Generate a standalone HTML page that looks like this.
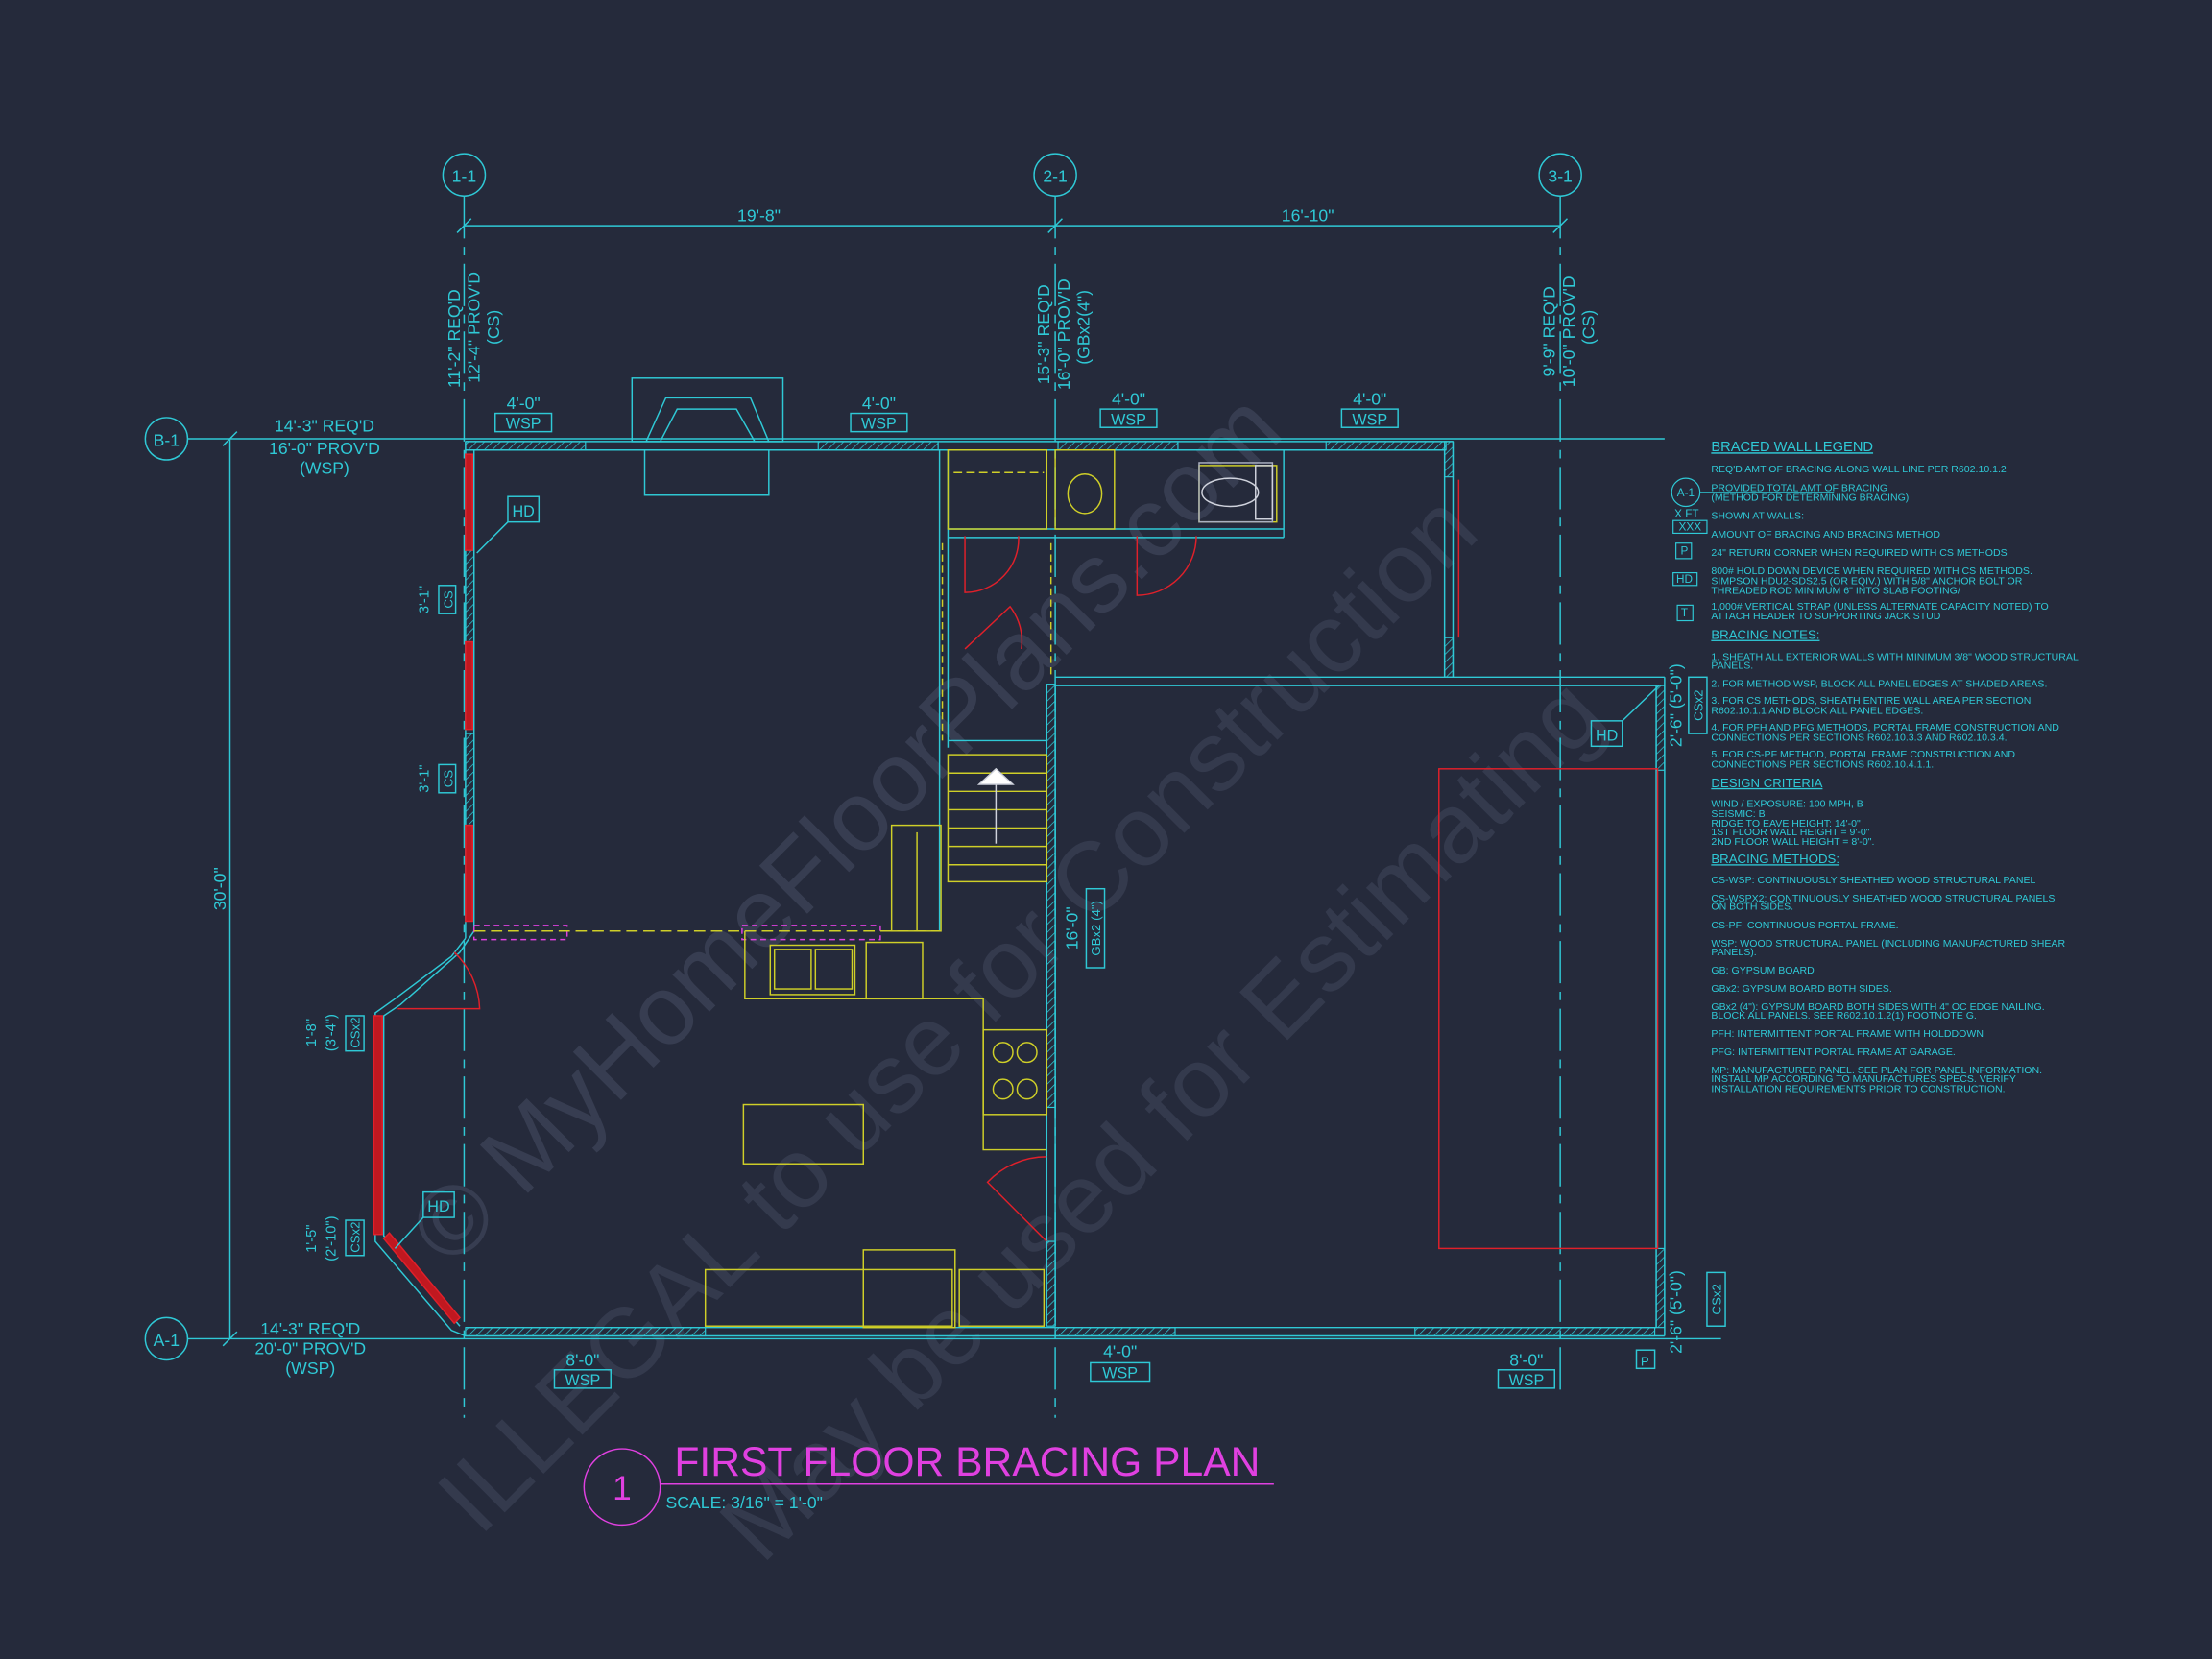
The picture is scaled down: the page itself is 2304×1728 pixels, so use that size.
<!DOCTYPE html>
<html><head><meta charset="utf-8"><style>
html,body{margin:0;padding:0;background:#252a3b;}
svg{display:block}
text{font-family:"Liberation Sans",sans-serif;}
</style></head><body>
<svg width="2304" height="1728" viewBox="0 0 1568 1176" xmlns="http://www.w3.org/2000/svg">
<rect width="1568" height="1176" fill="#252a3b"/>
<defs>
<pattern id="h" width="4" height="4" patternUnits="userSpaceOnUse" patternTransform="rotate(45)"><line x1="0" y1="0" x2="0" y2="4" stroke="#2fc9d6" stroke-width="1"/></pattern>
</defs>
<!-- watermark -->
<g fill="none" stroke="#3a4054" stroke-width="1.5" font-size="70" opacity="0.9">
<text x="320" y="900" transform="rotate(-45 320 900)" fill="#3a4054" stroke="none" font-family="Liberation Serif">© MyHomeFloorPlans.com</text>
<text x="340" y="1090" transform="rotate(-45 340 1090)" fill="#363c50" stroke="none" font-family="Liberation Serif">ILLEGAL to use for Construction</text>
<text x="540" y="1110" transform="rotate(-45 540 1110)" fill="#363c50" stroke="none" font-family="Liberation Serif">May be used for Estimating</text>
</g>
<g stroke="#2fc9d6" fill="none" stroke-width="1">
<!-- grid bubbles -->
<circle cx="329" cy="124" r="15"/><circle cx="748" cy="124" r="15"/><circle cx="1106" cy="124" r="15"/>
<circle cx="118" cy="311" r="15"/><circle cx="118" cy="949" r="15"/>
<line x1="329" y1="139" x2="329" y2="1005" stroke-dasharray="30 6 6 6"/>
<line x1="748" y1="139" x2="748" y2="1005" stroke-dasharray="30 6 6 6"/>
<line x1="1106" y1="139" x2="1106" y2="985" stroke-dasharray="30 6 6 6"/>
<line x1="133" y1="311" x2="1180" y2="311"/>
<line x1="133" y1="949" x2="1220" y2="949"/>
<!-- dims -->
<line x1="329" y1="160" x2="1106" y2="160"/>
<line x1="324" y1="165" x2="334" y2="155"/><line x1="743" y1="165" x2="753" y2="155"/><line x1="1101" y1="165" x2="1111" y2="155"/>
<line x1="163" y1="311" x2="163" y2="949"/>
<line x1="158" y1="316" x2="168" y2="306"/><line x1="158" y1="954" x2="168" y2="944"/>
<!-- walls -->
<line x1="330" y1="313" x2="1030" y2="313"/><line x1="330" y1="319" x2="1025" y2="319"/>
<line x1="330" y1="313" x2="330" y2="665"/><line x1="336" y1="319" x2="336" y2="660"/>
<line x1="1030" y1="313" x2="1030" y2="480"/><line x1="1024" y1="319" x2="1024" y2="480"/>
<line x1="748" y1="480" x2="1180" y2="480"/><line x1="748" y1="486" x2="1174" y2="486"/>
<line x1="1180" y1="480" x2="1180" y2="947"/><line x1="1174" y1="486" x2="1174" y2="941"/>
<line x1="330" y1="947" x2="1180" y2="947"/><line x1="330" y1="941" x2="1174" y2="941"/>
<polyline points="330,665 320,678 280,708 266,718 266,880 320,943 330,947"/>
<polyline points="336,660 326,675 284,712 272,720 272,876 326,940"/>
<line x1="742" y1="485" x2="742" y2="940"/><line x1="748" y1="485" x2="748" y2="940"/>
<line x1="666" y1="319" x2="666" y2="660"/><line x1="672" y1="319" x2="672" y2="530"/>
<line x1="672" y1="375" x2="748" y2="375"/><line x1="672" y1="381" x2="748" y2="381"/>
<line x1="748" y1="375" x2="910" y2="375"/><line x1="748" y1="381" x2="910" y2="381"/>
<line x1="910" y1="319" x2="910" y2="381"/>
<line x1="672" y1="525" x2="742" y2="525"/>
<!-- fireplace -->
<rect x="448" y="268" width="107" height="45"/><polyline points="458,313 472,282 532,282 545,313"/>
<polyline points="468,313 480,290 522,290 535,313"/>
<rect x="457" y="319" width="88" height="32"/>
</g>
<!-- hatched panels -->
<g fill="url(#h)" stroke="#2fc9d6" stroke-width="0.8">
<rect x="330" y="313" width="85" height="6"/><rect x="580" y="313" width="85" height="6"/>
<rect x="750" y="313" width="85" height="6"/><rect x="940" y="313" width="85" height="6"/>
<rect x="330" y="941" width="170" height="6"/><rect x="748" y="941" width="85" height="6"/>
<rect x="1003" y="941" width="170" height="6"/>
<rect x="330" y="390" width="6" height="65"/><rect x="330" y="520" width="6" height="65"/>
<rect x="742" y="485" width="6" height="300"/><rect x="742" y="880" width="6" height="60"/>
<rect x="1174" y="486" width="6" height="60"/><rect x="1174" y="885" width="6" height="56"/>
<rect x="1024" y="313" width="6" height="25"/><rect x="1024" y="452" width="6" height="28"/>
</g>
<!-- red -->
<g stroke="#e0202a" fill="none" stroke-width="1">
<rect x="330" y="322" width="5" height="68" fill="#c01820"/><rect x="330" y="455" width="5" height="62" fill="#c01820"/>
<rect x="330" y="585" width="5" height="68" fill="#c01820"/>
<rect x="265" y="720" width="6" height="155" fill="#c01820"/>
<polygon points="272,878 322,938 326,934 276,874" fill="#c01820"/>
<rect x="1020" y="545" width="155" height="340"/>
<line x1="1034" y1="340" x2="1034" y2="452"/>
<path d="M684 380 L684 420 A38 38 0 0 0 722 380"/>
<path d="M806 380 L806 422 A42 42 0 0 0 848 380"/>
<path d="M282 715 L340 715 A58 58 0 0 0 322 675"/>
<path d="M742 880 L700 838 A58 58 0 0 1 742 820"/>
<path d="M684 460 L716 430 A40 40 0 0 1 724 460"/>
<rect x="336" y="656" width="66" height="10" stroke="#e040e0" stroke-dasharray="4 3"/>
<rect x="526" y="656" width="98" height="10" stroke="#e040e0" stroke-dasharray="4 3"/>
</g>
<!-- yellow fixtures -->
<g stroke="#cfcf28" fill="none" stroke-width="1">
<rect x="672" y="319" width="70" height="56"/><line x1="676" y1="335" x2="740" y2="335" stroke-dasharray="6 3"/>
<rect x="748" y="319" width="42" height="56"/><ellipse cx="769" cy="350" rx="12" ry="14"/>
<rect x="850" y="330" width="55" height="40"/>
<line x1="668" y1="385" x2="668" y2="525" stroke-dasharray="5 3"/><line x1="745" y1="385" x2="745" y2="480" stroke-dasharray="5 3"/>
<rect x="672" y="535" width="70" height="90"/><line x1="672" y1="548" x2="742" y2="548"/><line x1="672" y1="561" x2="742" y2="561"/><line x1="672" y1="574" x2="742" y2="574"/><line x1="672" y1="587" x2="742" y2="587"/><line x1="672" y1="600" x2="742" y2="600"/><line x1="672" y1="613" x2="742" y2="613"/>
<rect x="632" y="585" width="35" height="75"/><line x1="650" y1="590" x2="650" y2="660"/>
<line x1="336" y1="660" x2="666" y2="660" stroke-dasharray="8 4"/>
<polyline points="528,660 528,708 697,708 697,815 742,815"/>
<rect x="546" y="670" width="60" height="35"/><rect x="549" y="673" width="26" height="28"/><rect x="578" y="673" width="26" height="28"/>
<rect x="614" y="668" width="40" height="40"/>
<rect x="697" y="730" width="45" height="60"/><circle cx="711" cy="746" r="7"/><circle cx="711" cy="772" r="7"/><circle cx="728" cy="746" r="7"/><circle cx="728" cy="772" r="7"/>
<rect x="527" y="783" width="85" height="42"/>
<rect x="500" y="900" width="175" height="40"/><rect x="612" y="886" width="65" height="55"/>
<rect x="680" y="900" width="60" height="40"/>
</g>
<g stroke="#cfd2dc" fill="none"><rect x="850" y="328" width="52" height="42" stroke="#aab0c0"/><ellipse cx="872" cy="349" rx="20" ry="10"/><rect x="890" y="330" width="12" height="38"/><polygon points="706,545 694,556 718,556" fill="#fff"/><line x1="706" y1="556" x2="706" y2="598"/></g>
<!-- labels & tags -->
<g fill="#2fc9d6" font-size="12">
<text x="329" y="129" text-anchor="middle">1-1</text><text x="748" y="129" text-anchor="middle">2-1</text><text x="1106" y="129" text-anchor="middle">3-1</text>
<text x="118" y="316" text-anchor="middle">B-1</text><text x="118" y="954" text-anchor="middle">A-1</text>
<text x="538" y="157" text-anchor="middle">19'-8"</text><text x="927" y="157" text-anchor="middle">16'-10"</text>
<text x="230" y="306" text-anchor="middle">14'-3" REQ'D</text><text x="230" y="322" text-anchor="middle">16'-0" PROV'D</text><text x="230" y="336" text-anchor="middle">(WSP)</text>
<text x="220" y="946" text-anchor="middle">14'-3" REQ'D</text><text x="220" y="960" text-anchor="middle">20'-0" PROV'D</text><text x="220" y="974" text-anchor="middle">(WSP)</text>
<text transform="translate(160 630) rotate(-90)" text-anchor="middle">30'-0"</text>
<text transform="translate(326 240) rotate(-90)" text-anchor="middle">11'-2" REQ'D</text><text transform="translate(340 232) rotate(-90)" text-anchor="middle">12'-4" PROV'D</text><text transform="translate(354 232) rotate(-90)" text-anchor="middle">(CS)</text>
<text transform="translate(744 237) rotate(-90)" text-anchor="middle">15'-3" REQ'D</text><text transform="translate(758 237) rotate(-90)" text-anchor="middle">16'-0" PROV'D</text><text transform="translate(772 232) rotate(-90)" text-anchor="middle">(GBx2(4")</text>
<text transform="translate(1102 235) rotate(-90)" text-anchor="middle">9'-9" REQ'D</text><text transform="translate(1116 235) rotate(-90)" text-anchor="middle">10'-0" PROV'D</text><text transform="translate(1130 232) rotate(-90)" text-anchor="middle">(CS)</text>
<text x="371" y="290" text-anchor="middle">4'-0"</text><text x="623" y="290" text-anchor="middle">4'-0"</text><text x="800" y="287" text-anchor="middle">4'-0"</text><text x="971" y="287" text-anchor="middle">4'-0"</text>
<text x="413" y="968" text-anchor="middle">8'-0"</text><text x="794" y="962" text-anchor="middle">4'-0"</text><text x="1082" y="968" text-anchor="middle">8'-0"</text>
<text transform="translate(764 658) rotate(-90)" text-anchor="middle">16'-0"</text>
<text transform="translate(1192 500) rotate(-90)" text-anchor="middle">2'-6" (5'-0")</text>
<text transform="translate(1192 930) rotate(-90)" text-anchor="middle">2'-6" (5'-0")</text>
<text transform="translate(304 425) rotate(-90)" text-anchor="middle" font-size="10">3'-1"</text>
<text transform="translate(304 552) rotate(-90)" text-anchor="middle" font-size="10">3'-1"</text>
<text transform="translate(224 732) rotate(-90)" text-anchor="middle" font-size="10">1'-8"</text><text transform="translate(238 732) rotate(-90)" text-anchor="middle" font-size="10">(3'-4")</text>
<text transform="translate(224 878) rotate(-90)" text-anchor="middle" font-size="10">1'-5"</text><text transform="translate(238 878) rotate(-90)" text-anchor="middle" font-size="10">(2'-10")</text>
</g>
<g stroke="#2fc9d6" fill="none">
<rect x="351" y="293" width="40" height="13"/><rect x="603" y="293" width="40" height="13"/><rect x="780" y="290" width="40" height="13"/><rect x="951" y="290" width="40" height="13"/>
<rect x="393" y="971" width="40" height="13"/><rect x="773" y="966" width="42" height="13"/><rect x="1062" y="971" width="40" height="13"/>
<rect x="311" y="415" width="12" height="20"/><rect x="311" y="542" width="12" height="20"/>
<rect x="770" y="630" width="13" height="56"/><rect x="1197" y="480" width="13" height="40"/><rect x="1210" y="902" width="13" height="38"/>
<rect x="245" y="720" width="13" height="25"/><rect x="245" y="865" width="13" height="25"/>
<rect x="360" y="352" width="22" height="18"/><line x1="360" y1="370" x2="338" y2="392"/>
<rect x="300" y="845" width="22" height="18"/><line x1="300" y1="863" x2="280" y2="885"/>
<rect x="1128" y="511" width="22" height="18"/><line x1="1150" y1="511" x2="1176" y2="486"/>
<rect x="1160" y="957" width="13" height="13"/>
</g>
<g fill="#2fc9d6" font-size="11">
<text x="371" y="304" text-anchor="middle">WSP</text><text x="623" y="304" text-anchor="middle">WSP</text><text x="800" y="301" text-anchor="middle">WSP</text><text x="971" y="301" text-anchor="middle">WSP</text>
<text x="413" y="982" text-anchor="middle">WSP</text><text x="794" y="977" text-anchor="middle">WSP</text><text x="1082" y="982" text-anchor="middle">WSP</text>
<text x="371" y="366" text-anchor="middle">HD</text><text x="311" y="859" text-anchor="middle">HD</text><text x="1139" y="525" text-anchor="middle">HD</text><text x="1166" y="968" text-anchor="middle" font-size="9">P</text>
<text transform="translate(321 425) rotate(-90)" text-anchor="middle" font-size="9">CS</text><text transform="translate(321 552) rotate(-90)" text-anchor="middle" font-size="9">CS</text>
<text transform="translate(780 658) rotate(-90)" text-anchor="middle" font-size="9">GBx2 (4")</text>
<text transform="translate(1207 500) rotate(-90)" text-anchor="middle" font-size="9">CSx2</text><text transform="translate(1220 921) rotate(-90)" text-anchor="middle" font-size="9">CSx2</text>
<text transform="translate(255 732) rotate(-90)" text-anchor="middle" font-size="9">CSx2</text><text transform="translate(255 877) rotate(-90)" text-anchor="middle" font-size="9">CSx2</text>
</g>
<!-- title -->
<circle cx="441" cy="1054" r="27" fill="none" stroke="#e040e0"/>
<text x="441" y="1063" text-anchor="middle" fill="#e040e0" font-size="24">1</text>
<line x1="468" y1="1052" x2="903" y2="1052" stroke="#e040e0"/>
<text x="478" y="1046" fill="#e040e0" font-size="29">FIRST FLOOR BRACING PLAN</text>
<text x="472" y="1069" fill="#2fc9d6" font-size="12">SCALE: 3/16" = 1'-0"</text>
<!-- legend -->
<g fill="#2fc9d6" font-size="7.2">
<text x="1213" y="320" font-size="10" text-decoration="underline">BRACED WALL LEGEND</text>
<text x="1213" y="335">REQ'D AMT OF BRACING ALONG WALL LINE PER R602.10.1.2</text>
<text x="1213" y="348">PROVIDED TOTAL AMT OF BRACING</text><text x="1213" y="355">(METHOD FOR DETERMINING BRACING)</text>
<text x="1213" y="368">SHOWN AT WALLS:</text><text x="1187" y="367" font-size="8">X FT</text>
<text x="1213" y="381">AMOUNT OF BRACING AND BRACING METHOD</text>
<text x="1213" y="394">24" RETURN CORNER WHEN REQUIRED WITH CS METHODS</text>
<text x="1213" y="407">800# HOLD DOWN DEVICE WHEN REQUIRED WITH CS METHODS.</text><text x="1213" y="414">SIMPSON HDU2-SDS2.5 (OR EQIV.) WITH 5/8" ANCHOR BOLT OR</text><text x="1213" y="421">THREADED ROD MINIMUM 6" INTO SLAB FOOTING/</text>
<text x="1213" y="432">1,000# VERTICAL STRAP (UNLESS ALTERNATE CAPACITY NOTED) TO</text><text x="1213" y="439">ATTACH HEADER TO SUPPORTING JACK STUD</text>
<text x="1213" y="453" font-size="9" text-decoration="underline">BRACING NOTES:</text>
<text x="1213" y="468">1. SHEATH ALL EXTERIOR WALLS WITH MINIMUM 3/8" WOOD STRUCTURAL</text><text x="1213" y="474">PANELS.</text>
<text x="1213" y="487">2. FOR METHOD WSP, BLOCK ALL PANEL EDGES AT SHADED AREAS.</text>
<text x="1213" y="499">3. FOR CS METHODS, SHEATH ENTIRE WALL AREA PER SECTION</text><text x="1213" y="506">R602.10.1.1 AND BLOCK ALL PANEL EDGES.</text>
<text x="1213" y="518">4. FOR PFH AND PFG METHODS, PORTAL FRAME CONSTRUCTION AND</text><text x="1213" y="525">CONNECTIONS PER SECTIONS R602.10.3.3 AND R602.10.3.4.</text>
<text x="1213" y="537">5. FOR CS-PF METHOD, PORTAL FRAME CONSTRUCTION AND</text><text x="1213" y="544">CONNECTIONS PER SECTIONS R602.10.4.1.1.</text>
<text x="1213" y="558" font-size="9" text-decoration="underline">DESIGN CRITERIA</text>
<text x="1213" y="572">WIND / EXPOSURE:  100 MPH, B</text><text x="1213" y="579">SEISMIC:  B</text><text x="1213" y="586">RIDGE TO EAVE HEIGHT: 14'-0"</text><text x="1213" y="592">1ST FLOOR WALL HEIGHT = 9'-0"</text><text x="1213" y="599">2ND FLOOR WALL HEIGHT = 8'-0".</text>
<text x="1213" y="612" font-size="9" text-decoration="underline">BRACING METHODS:</text>
<text x="1213" y="626">CS-WSP: CONTINUOUSLY SHEATHED WOOD STRUCTURAL PANEL</text>
<text x="1213" y="639">CS-WSPX2: CONTINUOUSLY SHEATHED WOOD STRUCTURAL PANELS</text><text x="1213" y="645">ON BOTH SIDES.</text>
<text x="1213" y="658">CS-PF: CONTINUOUS PORTAL FRAME.</text>
<text x="1213" y="671">WSP: WOOD STRUCTURAL PANEL (INCLUDING MANUFACTURED SHEAR</text><text x="1213" y="677">PANELS).</text>
<text x="1213" y="690">GB: GYPSUM BOARD</text>
<text x="1213" y="703">GBx2: GYPSUM BOARD BOTH SIDES.</text>
<text x="1213" y="716">GBx2 (4"): GYPSUM BOARD BOTH SIDES WITH 4" OC EDGE NAILING.</text><text x="1213" y="722">BLOCK ALL PANELS. SEE R602.10.1.2(1) FOOTNOTE G.</text>
<text x="1213" y="735">PFH: INTERMITTENT PORTAL FRAME WITH HOLDDOWN</text>
<text x="1213" y="748">PFG: INTERMITTENT PORTAL FRAME AT GARAGE.</text>
<text x="1213" y="761">MP: MANUFACTURED PANEL. SEE PLAN FOR PANEL INFORMATION.</text><text x="1213" y="767">INSTALL MP ACCORDING TO MANUFACTURES SPECS. VERIFY</text><text x="1213" y="774">INSTALLATION REQUIREMENTS PRIOR TO CONSTRUCTION.</text>
<text x="1195" y="352" text-anchor="middle" font-size="8">A-1</text>
<text x="1198" y="376" text-anchor="middle" font-size="8">XXX</text>
<text x="1194" y="393" text-anchor="middle" font-size="8">P</text><text x="1194" y="413" text-anchor="middle" font-size="8">HD</text><text x="1194" y="437" text-anchor="middle" font-size="8">T</text>
</g>
<g stroke="#2fc9d6" fill="none" stroke-width="0.8">
<circle cx="1195" cy="349" r="10"/><line x1="1205" y1="349" x2="1300" y2="349"/>
<rect x="1186" y="369" width="24" height="9"/><rect x="1188" y="385" width="11" height="11"/><rect x="1186" y="406" width="17" height="9"/><rect x="1189" y="429" width="11" height="11"/>
</g>
</svg>
</body></html>
